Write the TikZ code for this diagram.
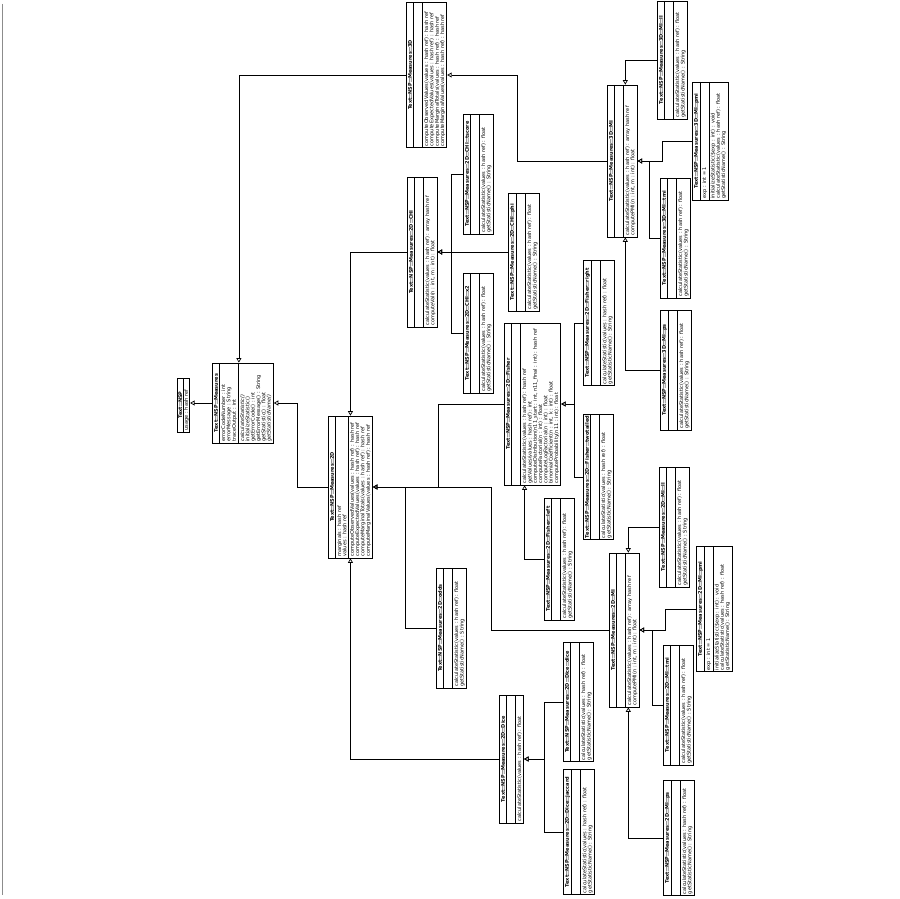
\documentclass[tikz,border=0pt]{standalone}
\usepackage{fontspec}
\setmainfont{DejaVu Sans}
\usetikzlibrary{shapes.multipart,arrows.meta,calc}

% class boxes are laid out rotated: header on the left, members to the right
\tikzset{
  cls/.style={rectangle split, rectangle split parts=3, draw, line width=0.7pt,
    rotate=90, anchor=north, fill=white, align=left,
    font=\fontsize{5}{5.3}\selectfont, inner xsep=1.5pt, inner ysep=1.4pt,
    rectangle split empty part height=0.6pt, rectangle split empty part depth=0pt,
    rectangle split part align={center,left,left}},
  inh/.style={draw, line width=0.7pt, -{Triangle[open,length=4.5pt,width=5pt]}},
  pageedge/.style={draw=black!45, line width=0.8pt},
}
\newcommand\hd[1]{\textbf{#1}}
\newcommand\mCalc{calculateStatistic(values : hash ref) : float}
\newcommand\mName{getStatisticName() : String}

\begin{document}
\begin{tikzpicture}[x=1pt,y=-1pt]
\fill[white] (0,0) rectangle (900,899);
\useasboundingbox (0,0) rectangle (900,899);
\coordinate (edgetop) at (2.5,4);
\coordinate (edgebot) at (2.5,895);
\draw[pageedge] (edgetop) -- (edgebot);

% core classes
\node[cls, rectangle split parts=2, inner ysep=0.6pt, minimum width=54pt] (nsp) at (177,405)
  {\hd{Text::NSP}\nodepart{two}usage : hash ref};
\node[cls, minimum width=80pt] (measures) at (212,403)
  {\hd{Text::NSP::Measures}
   \nodepart{two}errorCodeNumber : int\\errorMessage : String\\traceOutput : int
   \nodepart{three}\textit{calculateStatistic()}\\initializeStatistic()\\getErrorCode() : int\\getErrorMessage() : String\\getStatistic() : float\\\textit{getStatisticName()}};
\node[cls, minimum width=142pt] (d2) at (328,487)
  {\hd{Text::NSP::Measures::2D}
   \nodepart{two}marginals : hash ref\\values : hash ref
   \nodepart{three}computeObservedValues(values : hash ref) : hash ref\\computeExpectedValues(values : hash ref) : hash ref\\computeMarginalTotals(values : hash ref) : hash ref\\computeMarginalValues(values : hash ref) : hash ref};
\node[cls, minimum width=145pt] (d3) at (406,75)
  {\hd{Text::NSP::Measures::3D}
   \nodepart{two}
   \nodepart{three}computeObservedValues(values : hash ref) : hash ref\\computeExpectedValues(values : hash ref) : hash ref\\computeMarginalTotals(values : hash ref) : hash ref\\computeMarginalValues(values : hash ref) : hash ref};

% 2D::CHI family
\node[cls, minimum width=150pt] (chi) at (407,252)
  {\hd{Text::NSP::Measures::2D::CHI}\nodepart{two}
   \nodepart{three}calculateStatistic(values : hash ref) : array hash ref\\computeVal(n : int, m : int) : float};
\node[cls, minimum width=120pt] (tscore) at (463,174)
  {\hd{Text::NSP::Measures::2D::CHI::tscore}\nodepart{two}\nodepart{three}\mCalc\\\mName};
\node[cls, minimum width=118pt] (phi) at (508,252)
  {\hd{Text::NSP::Measures::2D::CHI::phi}\nodepart{two}\nodepart{three}\mCalc\\\mName};
\node[cls, minimum width=120pt] (x2) at (463,333)
  {\hd{Text::NSP::Measures::2D::CHI::x2}\nodepart{two}\nodepart{three}\mCalc\\\mName};

% 2D::Fisher family
\node[cls, minimum width=162pt] (fisher) at (504,404)
  {\hd{Text::NSP::Measures::2D::Fisher}\nodepart{two}
   \nodepart{three}calculateStatistic(values : hash ref) : hash ref\\getValues(values : hash ref) : int\\computeDistribution(n11\_start : int, n11\_final : int) : hash ref\\computeFactorial(n : int) : float\\computeLogFactorial(n : int) : float\\binomialCoefficient(n : int, k : int) : float\\computeProbability(n11 : int) : float};
\node[cls, minimum width=122pt] (fleft) at (544,559)
  {\hd{Text::NSP::Measures::2D::Fisher::left}\nodepart{two}\nodepart{three}\mCalc\\\mName};
\node[cls, minimum width=125pt] (fright) at (583,323)
  {\hd{Text::NSP::Measures::2D::Fisher::right}\nodepart{two}\nodepart{three}\mCalc\\\mName};
\node[cls, minimum width=125pt] (ftwo) at (583,477)
  {\hd{Text::NSP::Measures::2D::Fisher::twotailed}\nodepart{two}\nodepart{three}\mCalc\\\mName};

% 2D::odds
\node[cls, minimum width=120pt] (odds) at (436,628)
  {\hd{Text::NSP::Measures::2D::odds}\nodepart{two}\nodepart{three}\mCalc\\\mName};

% 2D::MI family
\node[cls, minimum width=154pt] (mi2) at (609,630)
  {\hd{Text::NSP::Measures::2D::MI}\nodepart{two}
   \nodepart{three}calculateStatistic(values : hash ref) : array hash ref\\computePMI(n : int, m : int) : float};
\node[cls, minimum width=120pt] (mill) at (659,527)
  {\hd{Text::NSP::Measures::2D::MI::ll}\nodepart{two}\nodepart{three}\mCalc\\\mName};
\node[cls, minimum width=125pt] (mipmi) at (696,609)
  {\hd{Text::NSP::Measures::2D::MI::pmi}\nodepart{two}exp : int = 1
   \nodepart{three}initializeStatistic(\$exp : int) : void\\\mCalc\\\mName};
\node[cls, minimum width=120pt] (mitmi) at (663,705)
  {\hd{Text::NSP::Measures::2D::MI::tmi}\nodepart{two}\nodepart{three}\mCalc\\\mName};
\node[cls, minimum width=115pt] (mips) at (663,838)
  {\hd{Text::NSP::Measures::2D::MI::ps}\nodepart{two}\nodepart{three}\mCalc\\\mName};

% 2D::Dice family
\node[cls, minimum width=128pt] (dice) at (499,759)
  {\hd{Text::NSP::Measures::2D::Dice}\nodepart{two}\nodepart{three}calculateStatistic(values : hash ref) : float};
\node[cls, minimum width=119pt] (ddice) at (563,702)
  {\hd{Text::NSP::Measures::2D::Dice::dice}\nodepart{two}\nodepart{three}\mCalc\\\mName};
\node[cls, minimum width=125pt] (djacc) at (563,832)
  {\hd{Text::NSP::Measures::2D::Dice::jaccard}\nodepart{two}\nodepart{three}\mCalc\\\mName};

% 3D::MI family
\node[cls, minimum width=152pt] (mi3) at (607,161)
  {\hd{Text::NSP::Measures::3D::MI}\nodepart{two}
   \nodepart{three}calculateStatistic(values : hash ref) : array hash ref\\computePMI(n : int, m : int) : float};
\node[cls, minimum width=118pt] (mtll) at (657,60)
  {\hd{Text::NSP::Measures::3D::MI::ll}\nodepart{two}\nodepart{three}\mCalc\\\mName};
\node[cls, minimum width=118pt] (mtpmi) at (692,141)
  {\hd{Text::NSP::Measures::3D::MI::pmi}\nodepart{two}exp : int = 1
   \nodepart{three}initializeStatistic(\$exp : int) : void\\\mCalc\\\mName};
\node[cls, minimum width=120pt] (mttmi) at (660,238)
  {\hd{Text::NSP::Measures::3D::MI::tmi}\nodepart{two}\nodepart{three}\mCalc\\\mName};
\node[cls, minimum width=120pt] (mtps) at (660,370)
  {\hd{Text::NSP::Measures::3D::MI::ps}\nodepart{two}\nodepart{three}\mCalc\\\mName};

% generalisation connectors
\draw[inh] (measures.north) -- (nsp.south |- measures.north);
\draw[inh] (d3.north) -| ([xshift=-4pt]measures.east);
\draw[inh] (d2.north) -- ++(-31,0) |- (measures.south);
\draw[inh] (chi.north) -| (d2.east);
\draw[inh] (dice.north) -| (d2.west);
\draw[inh] (fisher.north) -| ($(d2.south)+(65,0)$) -- (d2.south);
\draw[inh] (odds.north) -| ($(d2.south)+(32,0)$) -- (d2.south);
\draw[inh] (mi2.north) -| ($(d2.south)+(118,0)$) -- (d2.south);
\draw[inh] (mi3.north) -- ++(-90,0) |- (d3.south);

\draw[inh] (tscore.north) -| ($(chi.south)+(14,0)$) -- (chi.south);
\draw[inh] (phi.north) -- (chi.south);
\draw[inh] (x2.north) -| ($(chi.south)+(14,0)$) -- (chi.south);

\draw[inh] (fleft.north) -| ([xshift=-8pt]fisher.west);
\draw[inh] (fright.north) -| ($(fisher.south)+(13,0)$) -- (fisher.south);
\draw[inh] (ftwo.north) -| ($(fisher.south)+(13,0)$) -- (fisher.south);

\draw[inh] (mill.north) -| ([xshift=4pt]mi2.east);
\draw[inh] (mipmi.north) -- ++(-31,0) |- (mi2.south);
\draw[inh] (mitmi.north) -| ($(mi2.south)+(13,0)$) -- (mi2.south);
\draw[inh] (mips.north) -| ([xshift=4pt]mi2.west);

\draw[inh] (ddice.north) -| ($(dice.south)+(20,0)$) -- (dice.south);
\draw[inh] (djacc.north) -| ($(dice.south)+(20,0)$) -- (dice.south);

\draw[inh] (mtll.north) -| ([xshift=3pt]mi3.east);
\draw[inh] (mtpmi.north) -- ++(-30,0) |- (mi3.south);
\draw[inh] (mttmi.north) -| ($(mi3.south)+(12,0)$) -- (mi3.south);
\draw[inh] (mtps.north) -| ([xshift=3pt]mi3.west);
\end{tikzpicture}
\end{document}
